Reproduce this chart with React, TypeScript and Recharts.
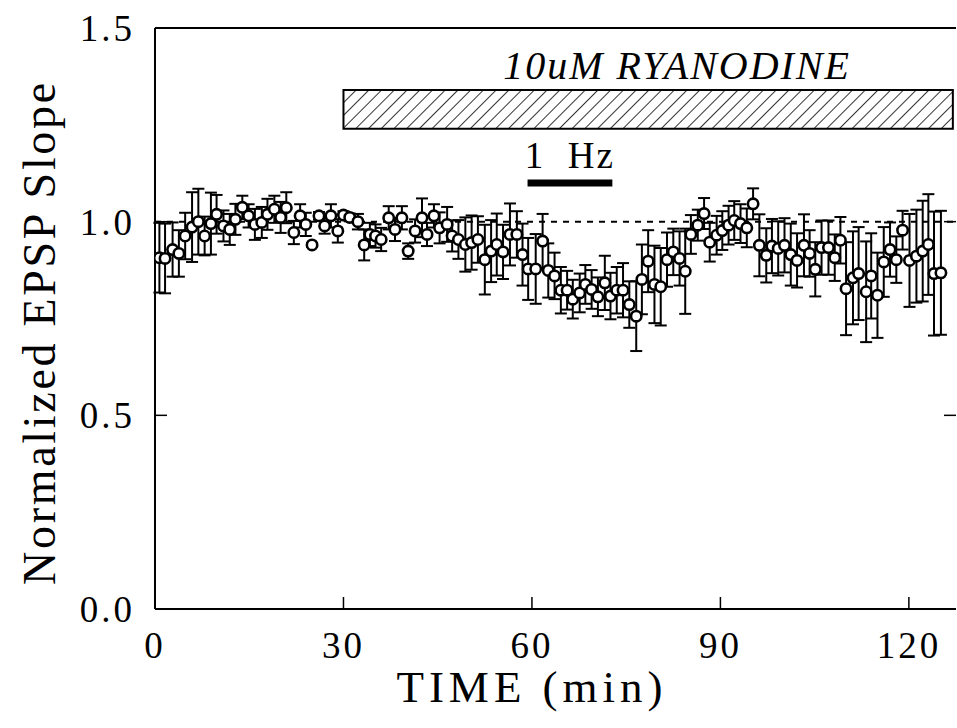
import React from 'react';
import { ScatterChart, Scatter, XAxis, YAxis, ErrorBar, ReferenceLine, ReferenceArea } from 'recharts';

// time (min) of each sample
const times = [
  0.7, 1.6, 2.8, 3.8, 4.8, 5.9, 6.9, 7.9, 8.9, 9.8,
  10.9, 11.9, 12.8, 13.9, 14.9, 15.9, 17.0, 17.9, 19.0, 20.0,
  20.9, 22.1, 23.1, 24.0, 25.0, 26.1, 27.0, 28.0, 29.1, 30.0,
  31.0, 32.3, 33.3, 34.2, 35.1, 36.0, 37.2, 38.2, 39.3, 40.3,
  41.4, 42.5, 43.3, 44.4, 45.3, 46.5, 47.3, 48.3, 49.4, 50.4,
  51.4, 52.5, 53.5, 54.4, 55.4, 56.5, 57.6, 58.5, 59.4, 60.6,
  61.7, 62.6, 63.6, 64.6, 65.6, 66.5, 67.6, 68.5, 69.5, 70.5,
  71.6, 72.5, 73.5, 74.5, 75.5, 76.6, 77.5, 78.5, 79.5, 80.5,
  81.5, 82.5, 83.5, 84.4, 85.3, 86.4, 87.4, 88.3, 89.4, 90.3,
  91.3, 92.2, 93.2, 94.2, 95.2, 96.2, 97.3, 98.2, 99.2, 100.2,
  101.2, 102.2, 103.3, 104.2, 105.1, 106.1, 107.2, 108.2, 109.1, 110.0,
  111.1, 112.0, 113.2, 114.0, 115.0, 116.0, 117.0, 118.0, 119.0, 120.1,
  121.2, 122.2, 123.1, 124.0, 125.1,
];

// normalized EPSP slope (mean)
const slopes = [
  0.907, 0.905, 0.928, 0.918, 0.963, 0.986, 1.0, 0.963, 0.995, 1.019,
  0.989, 0.98, 1.006, 1.037, 1.015, 0.993, 0.998, 1.019, 1.032, 1.011,
  1.036, 0.972, 1.015, 0.993, 0.94, 1.015, 0.989, 1.015, 0.976, 1.017,
  1.011, 1.0, 0.94, 0.967, 0.963, 0.954, 1.01, 0.98, 1.01, 0.924,
  0.976, 1.01, 0.967, 1.015, 0.984, 0.993, 0.963, 0.954, 0.941, 0.946,
  0.954, 0.902, 0.924, 0.941, 0.922, 0.967, 0.967, 0.915, 0.878, 0.878,
  0.95, 0.874, 0.86, 0.823, 0.823, 0.8, 0.816, 0.838, 0.825, 0.806,
  0.842, 0.808, 0.823, 0.823, 0.786, 0.756, 0.851, 0.898, 0.838, 0.832,
  0.902, 0.922, 0.905, 0.872, 0.967, 0.991, 1.021, 0.947, 0.965, 0.977,
  0.991, 1.003, 0.995, 0.984, 1.046, 0.939, 0.913, 0.937, 0.931, 0.939,
  0.915, 0.9, 0.939, 0.918, 0.877, 0.933, 0.933, 0.907, 0.952, 0.827,
  0.855, 0.866, 0.819, 0.86, 0.81, 0.896, 0.928, 0.902, 0.978, 0.9,
  0.911, 0.924, 0.941, 0.866, 0.868,
];

// error (SEM)
const sems = [
  0.09, 0.09, 0.07, 0.06, 0.06, 0.09, 0.085, 0.05, 0.08, 0.05,
  0.04, 0.04, 0.04, 0.03, 0.03, 0.04, 0.04, 0.04, 0.035, 0.04,
  0.04, 0.03, 0.03, 0.03, 0.005, 0.01, 0.02, 0.03, 0.03, 0.01,
  0.01, 0.02, 0.04, 0.03, 0.03, 0.03, 0.03, 0.03, 0.03, 0.02,
  0.03, 0.05, 0.03, 0.03, 0.04, 0.045, 0.04, 0.05, 0.07, 0.07,
  0.06, 0.09, 0.08, 0.08, 0.07, 0.08, 0.06, 0.08, 0.08, 0.09,
  0.07, 0.07, 0.06, 0.06, 0.05, 0.05, 0.05, 0.05, 0.05, 0.05,
  0.07, 0.06, 0.06, 0.07, 0.06, 0.09, 0.09, 0.08, 0.1, 0.1,
  0.07, 0.06, 0.07, 0.11, 0.05, 0.04, 0.04, 0.05, 0.05, 0.05,
  0.05, 0.05, 0.05, 0.05, 0.04, 0.08, 0.07, 0.07, 0.07, 0.07,
  0.08, 0.07, 0.08, 0.06, 0.07, 0.07, 0.07, 0.06, 0.06, 0.12,
  0.12, 0.12, 0.13, 0.11, 0.11, 0.09, 0.07, 0.06, 0.05, 0.12,
  0.12, 0.13, 0.13, 0.16, 0.16,
];

const xTicks = [0, 30, 60, 90, 120];
const yTicks = [0, 0.5, 1.0, 1.5];
const xLabel = 'TIME (min)';
const yLabel = 'Normalized EPSP Slope';
const drugLabel = '10uM RYANODINE';
const drugSpan = [30, 127];
const drugBand = [1.24, 1.34];
const stimLabel = '1  Hz';
const stimSpan = [59.3, 72.8];
const stimBand = [1.091, 1.109];

const data = times.map((t, i) => ({ t, v: slopes[i], e: sems[i] }));

const FONT = '"Liberation Serif", "DejaVu Serif", serif';
const X_MARGIN = 23;
const Y_MARGIN = 20;
const TICK_LEN = 12;

const BottomTick = (props: any) => {
  const { x, y, payload } = props;
  const axisY = y - X_MARGIN;
  return (
    <g>
      {payload.value !== 0 && (
        <line x1={x} x2={x} y1={axisY} y2={axisY - TICK_LEN} stroke="#000" strokeWidth={1.5} />
      )}
      <text x={x} y={y} dy="0.7em" textAnchor="middle" fontFamily={FONT} fontSize={37} letterSpacing={3} fill="#000">
        {payload.value}
      </text>
    </g>
  );
};

const LeftTick = (props: any) => {
  const { x, y, payload } = props;
  const axisX = x + Y_MARGIN;
  return (
    <g>
      {payload.value !== 0 && payload.value !== 1.5 && (
        <line x1={axisX} x2={axisX + TICK_LEN} y1={y} y2={y} stroke="#000" strokeWidth={1.5} />
      )}
      <text x={x} y={y} dy="0.35em" textAnchor="end" fontFamily={FONT} fontSize={37} letterSpacing={3} fill="#000">
        {payload.value.toFixed(1)}
      </text>
    </g>
  );
};

const TopTick = (props: any) => {
  const { x, y, payload } = props;
  if (payload.value === 0) return <g />;
  return <line x1={x} x2={x} y1={y} y2={y + TICK_LEN} stroke="#000" strokeWidth={1.5} />;
};

const RightTick = (props: any) => {
  const { x, y, payload } = props;
  if (payload.value === 0 || payload.value === 1.5) return <g />;
  return <line x1={x} x2={x - TICK_LEN} y1={y} y2={y} stroke="#000" strokeWidth={1.5} />;
};

const Circle = (props: any) => (
  <circle cx={props.cx} cy={props.cy} r={5.2} fill="#fff" stroke="#000" strokeWidth={2.6} />
);

const XTitle = (props: any) => {
  const { viewBox } = props;
  return (
    <text x={viewBox.x + 377} y={viewBox.y + 93} textAnchor="middle" fontFamily={FONT} fontSize={45} letterSpacing={5} fill="#000">
      {xLabel}
    </text>
  );
};

const YTitle = (props: any) => {
  const { viewBox } = props;
  const cx = viewBox.x + 55;
  const cy = viewBox.y + viewBox.height / 2 + 14;
  return (
    <text x={cx} y={cy} transform={`rotate(-90 ${cx} ${cy})`} textAnchor="middle" fontFamily={FONT} fontSize={46} letterSpacing={2.7} fill="#000">
      {yLabel}
    </text>
  );
};

const DrugText = (props: any) => {
  const { viewBox } = props;
  return (
    <text x={viewBox.x + viewBox.width / 2 + 29} y={viewBox.y - 11} textAnchor="middle" fontFamily={FONT} fontStyle="italic" fontSize={40} letterSpacing={2} fill="#000">
      {drugLabel}
    </text>
  );
};

const StimText = (props: any) => {
  const { viewBox } = props;
  return (
    <text x={viewBox.x + viewBox.width / 2} y={viewBox.y - 11} textAnchor="middle" fontFamily={FONT} fontSize={37} letterSpacing={2} fill="#000" style={{ whiteSpace: 'pre' }}>
      {stimLabel}
    </text>
  );
};

export default function App() {
  return (
    <div style={{ position: 'absolute', left: 0, top: 0, background: '#fff' }}>
      <ScatterChart width={957} height={728} margin={{ top: 27, right: 0, bottom: 0, left: 0 }}>
        <defs>
          <pattern id="hatch" patternUnits="userSpaceOnUse" width={9} height={9} patternTransform="rotate(45)">
            <line x1={0} y1={0} x2={0} y2={9} stroke="#000" strokeWidth={1.6} />
          </pattern>
        </defs>
        <XAxis
          type="number"
          dataKey="t"
          domain={[0, 127.5]}
          ticks={xTicks}
          height={119}
          tickSize={0}
          tickMargin={X_MARGIN}
          tick={<BottomTick />}
          axisLine={{ stroke: '#000', strokeWidth: 2 }}
          label={<XTitle />}
          allowDataOverflow
        />
        <XAxis
          xAxisId="top"
          orientation="top"
          type="number"
          domain={[0, 127.5]}
          ticks={xTicks}
          height={1}
          tickSize={0}
          tickMargin={0}
          tick={<TopTick />}
          axisLine={{ stroke: '#000', strokeWidth: 2 }}
          allowDataOverflow
        />
        <YAxis
          type="number"
          dataKey="v"
          domain={[0, 1.5]}
          ticks={yTicks}
          width={155}
          tickSize={0}
          tickMargin={Y_MARGIN}
          tick={<LeftTick />}
          axisLine={{ stroke: '#000', strokeWidth: 2 }}
          label={<YTitle />}
          allowDataOverflow
        />
        <YAxis
          yAxisId="right"
          orientation="right"
          type="number"
          domain={[0, 1.5]}
          ticks={yTicks}
          width={1}
          tickSize={0}
          tickMargin={0}
          tick={<RightTick />}
          axisLine={false}
          allowDataOverflow
        />
        <ReferenceLine y={1.5} stroke="#000" strokeWidth={2} />
        <ReferenceLine y={1} stroke="#000" strokeWidth={2} strokeDasharray="6 6" />
        <ReferenceArea
          x1={drugSpan[0]}
          x2={drugSpan[1]}
          y1={drugBand[0]}
          y2={drugBand[1]}
          fill="url(#hatch)"
          fillOpacity={1}
          stroke="#000"
          strokeWidth={2}
          label={<DrugText />}
        />
        <ReferenceArea
          x1={stimSpan[0]}
          x2={stimSpan[1]}
          y1={stimBand[0]}
          y2={stimBand[1]}
          fill="#000"
          fillOpacity={1}
          stroke="none"
          label={<StimText />}
        />
        <Scatter data={data} shape={<Circle />} isAnimationActive={false}>
          <ErrorBar dataKey="e" direction="y" width={6} stroke="#000" strokeWidth={2} />
        </Scatter>
      </ScatterChart>
    </div>
  );
}
